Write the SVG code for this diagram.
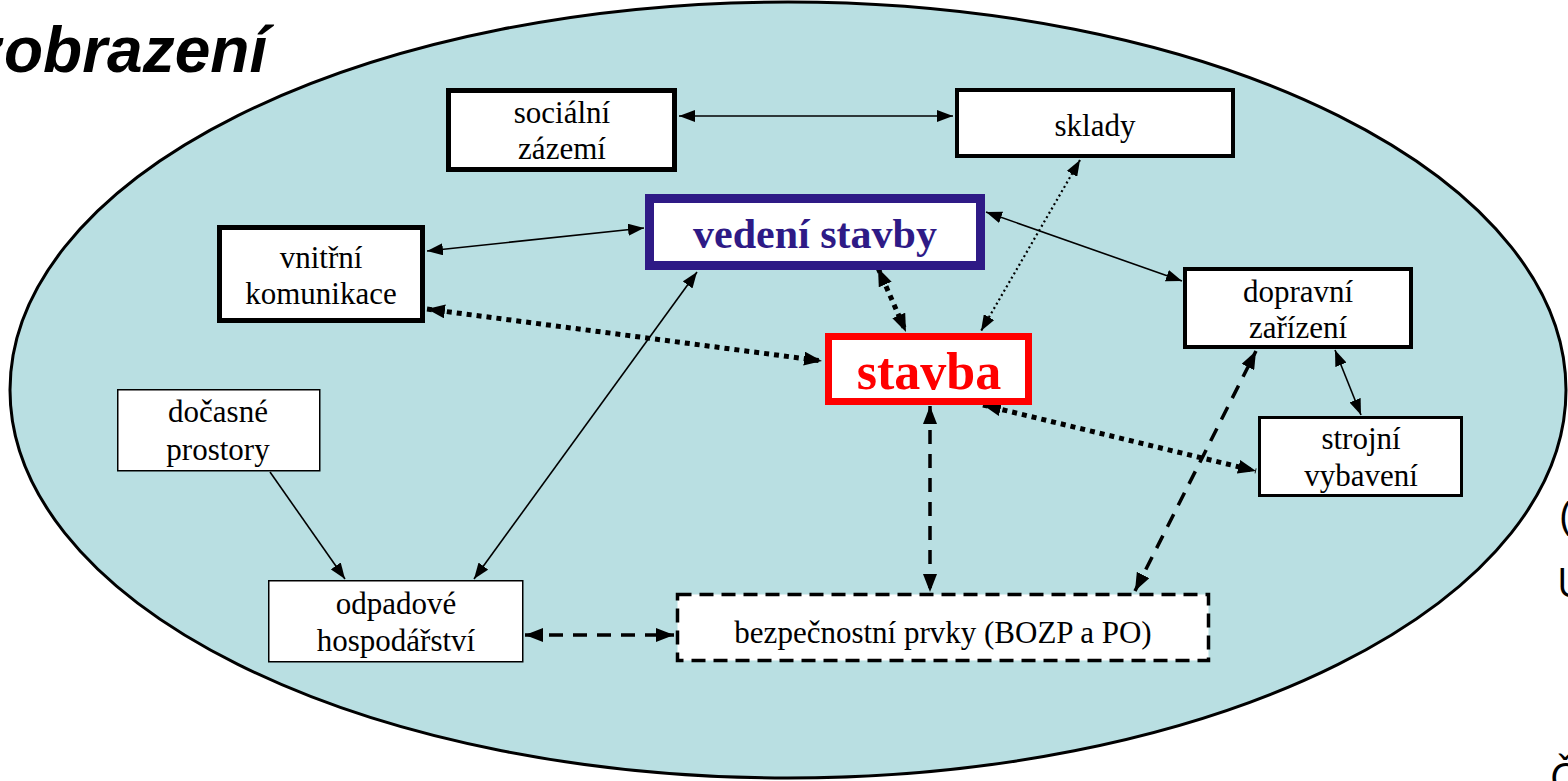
<svg xmlns="http://www.w3.org/2000/svg" width="1568" height="781" viewBox="0 0 1568 781">
  <style>
    .box { fill: #ffffff; stroke: #000000; }
    .lbl { font-family: "Liberation Serif", "Times New Roman", serif; font-size: 31px; fill: #000000; text-anchor: middle; }
    .thin { fill: none; stroke: #000000; stroke-width: 1.6; marker-start: url(#arr); marker-end: url(#arr); }
    .dots { fill: none; stroke: #000000; stroke-width: 2.2; stroke-dasharray: 2 3; marker-start: url(#arr); marker-end: url(#arr); }
    .bigdots { fill: none; stroke: #000000; stroke-width: 5; stroke-dasharray: 5 5; marker-start: url(#arrL); marker-end: url(#arrL); }
    .dash { fill: none; stroke: #000000; stroke-width: 3.5; stroke-dasharray: 14 10; marker-start: url(#arrL); marker-end: url(#arrL); }
    .side { font-family: "Open Sans", "Liberation Sans", sans-serif; font-size: 40px; fill: #000000; }
  </style>
  <defs>
    <marker id="arr" viewBox="0 0 16 12" refX="16" refY="6" markerWidth="16" markerHeight="12" markerUnits="userSpaceOnUse" orient="auto-start-reverse">
      <path d="M0,0 L16,6 L0,12 z" fill="#000000"/>
    </marker>
    <marker id="arrL" viewBox="0 0 18 14" refX="18" refY="7" markerWidth="18" markerHeight="14" markerUnits="userSpaceOnUse" orient="auto-start-reverse">
      <path d="M0,0 L18,7 L0,14 z" fill="#000000"/>
    </marker>
  </defs>

  <rect width="1568" height="781" fill="#ffffff"/>

  <!-- site area -->
  <ellipse cx="788" cy="390" rx="778" ry="388" fill="#b9dfe2" stroke="#000000" stroke-width="3"/>

  <!-- heading and neighbouring text -->
  <text x="-28" y="72" font-family="Liberation Sans, Arial, sans-serif" font-size="64" font-weight="bold" font-style="italic" fill="#000000">zobrazení</text>
  <text class="side" x="1560" y="530">(</text>
  <text class="side" x="1557" y="597">U</text>
  <text class="side" x="1550" y="792">Č</text>

  <!-- connectors -->
  <g id="connectors">
    <path class="thin" d="M679,116 L953,116"/>
    <path class="thin" d="M427,251 L644,228"/>
    <path class="thin" d="M986,212 L1182,281"/>
    <path class="dots" d="M1080,160 L981,331"/>
    <path class="bigdots" d="M878,268 L906,332"/>
    <path class="bigdots" d="M427,309 L822,361"/>
    <path class="thin" d="M697,272 L474,579"/>
    <path class="thin" d="M270,472 L345,579" style="marker-start:none"/>
    <path class="dash" d="M930,406 L930,592"/>
    <path class="bigdots" d="M983,405 L1256,471"/>
    <path class="dash" d="M1135,591 L1256,351"/>
    <path class="thin" d="M1335,350 L1361,415"/>
    <path class="dash" d="M525,635 L674,635"/>
  </g>

  <!-- nodes -->
  <g id="socialni-zazemi">
    <rect class="box" x="448.5" y="90.5" width="226" height="79" stroke-width="5"/>
    <text class="lbl" x="562" y="123">sociální</text>
    <text class="lbl" x="562" y="159">zázemí</text>
  </g>
  <g id="sklady">
    <rect class="box" x="957" y="90" width="276" height="66" stroke-width="4"/>
    <text class="lbl" x="1095" y="136">sklady</text>
  </g>
  <g id="vedeni-stavby">
    <rect class="box" x="649.5" y="198.5" width="331" height="67" style="stroke:#2e1a86" stroke-width="9"/>
    <text x="815" y="248" font-family="Liberation Serif, Times New Roman, serif" font-size="42" font-weight="bold" fill="#2e1a86" text-anchor="middle">vedení stavby</text>
  </g>
  <g id="vnitrni-komunikace">
    <rect class="box" x="219.5" y="227.5" width="203" height="93" stroke-width="5"/>
    <text class="lbl" x="321" y="268">vnitřní</text>
    <text class="lbl" x="321" y="304">komunikace</text>
  </g>
  <g id="stavba">
    <rect class="box" x="828.5" y="336.5" width="200" height="65" style="stroke:#ff0000" stroke-width="7"/>
    <text x="929" y="389" font-family="Liberation Serif, Times New Roman, serif" font-size="52" font-weight="bold" fill="#ff0000" text-anchor="middle">stavba</text>
  </g>
  <g id="dopravni-zarizeni">
    <rect class="box" x="1185" y="269" width="226" height="78" stroke-width="4"/>
    <text class="lbl" x="1298" y="302">dopravní</text>
    <text class="lbl" x="1298" y="338">zařízení</text>
  </g>
  <g id="strojni-vybaveni">
    <rect class="box" x="1259.5" y="417.5" width="202" height="78" stroke-width="3"/>
    <text class="lbl" x="1361" y="449">strojní</text>
    <text class="lbl" x="1361" y="486">vybavení</text>
  </g>
  <g id="docasne-prostory">
    <rect class="box" x="117.75" y="389.75" width="202" height="81" stroke-width="1.5"/>
    <text class="lbl" x="218" y="422">dočasné</text>
    <text class="lbl" x="218" y="460">prostory</text>
  </g>
  <g id="odpadove-hospodarstvi">
    <rect class="box" x="268.75" y="580.75" width="254" height="81" stroke-width="1.5"/>
    <text class="lbl" x="396" y="614">odpadové</text>
    <text class="lbl" x="396" y="651">hospodářství</text>
  </g>
  <g id="bezpecnostni-prvky">
    <rect class="box" x="677.5" y="594.5" width="531" height="66" stroke-width="3.5" stroke-dasharray="14 8"/>
    <text class="lbl" x="943" y="643">bezpečnostní prvky (BOZP a PO)</text>
  </g>
</svg>
